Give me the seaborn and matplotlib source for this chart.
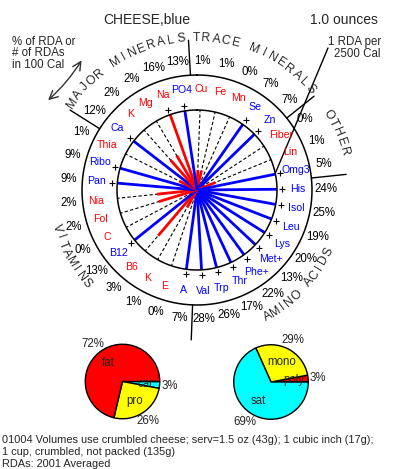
import numpy as np
import pandas as pd
import matplotlib
matplotlib.use("Agg")
import matplotlib.pyplot as plt
import seaborn as sns

# nutrients clockwise from the top, % of RDA in 100 Cal
nutrients = ["Cu", "Fe", "Mn", "Se", "Zn",
             "Fiber", "Lin", "Omg3",
             "His", "Isol", "Leu", "Lys", "Met+", "Phe+", "Thr", "Trp", "Val",
             "A", "E", "K", "B6", "B12", "C", "Fol", "Nia", "Pan", "Ribo", "Thia",
             "Ca", "K", "Mg", "Na", "PO4"]
pct_rda = [1, 1, 0, 7, 7,
           0, 1, 5,
           24, 25, 19, 20, 13, 22, 17, 26, 28,
           7, 0, 1, 3, 13, 0, 2, 2, 9, 9, 1,
           12, 2, 2, 16, 13]
limit_nutrients = ["Na"]   # drawn red even when high
groups = ["TRACE MINERALS", "OTHER", "AMINO ACIDS", "VITAMINS", "MAJOR MINERALS"]
group_sizes = [5, 3, 9, 11, 5]
group_ccw = [False, False, True, True, False]

cal_labels = ["car", "pro", "fat"]
cal_pct = [3, 26, 72]
fat_labels = ["poly", "mono", "sat"]
fat_pct = [3, 29, 69]
pie_colors = ["#00FFFF", "#FFFF00", "#FF0000"]
fat_colors = ["#FF0000", "#FFFF00", "#00FFFF"]

ref_pct = 100 / 2500 * 100   # 1 RDA per 2500 Cal -> 4% in 100 Cal

sns.set_theme(style="white")
plt.rcParams["font.family"] = ["Liberation Sans", "DejaVu Sans"]

BLUE, RED = "#0000FF", "#FF0000"
CX, CY = 197, 190
R_IN, R_OUT = 80, 115
STEP = 360 / len(nutrients)
OFFSET = 2.2


def pt(theta, r):
    t = np.deg2rad(theta)
    return CX + r * np.sin(t), CY - r * np.cos(t)


df = pd.DataFrame({"name": nutrients, "pct": pct_rda})
df["angle"] = OFFSET + np.arange(len(df)) * STEP
df["good"] = (df["pct"] >= ref_pct) & ~df["name"].isin(limit_nutrients)
df["color"] = np.where(df["good"], BLUE, RED)
df["length"] = np.minimum(df["pct"] / ref_pct, 1) * R_IN

fig = plt.figure(figsize=(3.93, 4.69), dpi=100)
ax = fig.add_axes([0, 0, 1, 1])
ax.set_xlim(0, 393)
ax.set_ylim(469, 0)
ax.axis("off")

# dashed guide spokes
for a in df["angle"]:
    x1, y1 = pt(a, R_IN)
    ax.plot([CX, x1], [CY, y1], color="black", lw=0.8, ls=(0, (3, 2)), zorder=1)

# value spokes
for _, row in df.iterrows():
    if row["length"] > 0:
        x1, y1 = pt(row["angle"], row["length"])
        ax.plot([CX, x1], [CY, y1], color=row["color"], lw=2.0,
                solid_capstyle="butt", zorder=2)

# circles
th = np.linspace(0, 360, 400)
for r in (R_IN, R_OUT):
    xs, ys = pt(th, r)
    ax.plot(xs, ys, color="black", lw=1.1, zorder=3)

# + markers where the value reaches 1 RDA per 2500 Cal
over = df[df["pct"] >= ref_pct].copy()
over["x"], over["y"] = pt(over["angle"].values, R_IN + 5)
sns.scatterplot(data=over, x="x", y="y", marker="+", color="black", s=18,
                linewidth=0.8, ax=ax, legend=False, zorder=4)

# nutrient names and percents
for _, row in df.iterrows():
    x, y = pt(row["angle"], 101)
    ax.text(x, y, row["name"], color=row["color"], fontsize=7.6,
            ha="center", va="center")
    x, y = pt(row["angle"], 129)
    ax.text(x, y, f"{row['pct']}%", color="black", fontsize=8.3,
            ha="center", va="center")

# group dividers and curved group names
start = 0
for name, n, ccw in zip(groups, group_sizes, group_ccw):
    a0 = OFFSET + (start - 0.5) * STEP
    x0, y0 = pt(a0, R_OUT)
    x1, y1 = pt(a0, 150)
    ax.plot([x0, x1], [y0, y1], color="black", lw=1.0)
    mid = OFFSET + (start + (n - 1) / 2) * STEP
    if ccw:
        d, rr = 3.55, 145
        angs = mid + d * (len(name) - 1) / 2 - d * np.arange(len(name))
        rots = 180 - angs
    else:
        d, rr = 3.75, 152
        angs = mid - d * (len(name) - 1) / 2 + d * np.arange(len(name))
        rots = -angs
    for ch, a, rot in zip(name, angs, rots):
        x, y = pt(a, rr)
        ax.text(x, y, ch, fontsize=8.8, ha="center", va="center",
                rotation=rot, rotation_mode="anchor")
    start += n

# pointer to the 1 RDA circle
px, py = pt(78, R_IN)
ax.plot([328, px], [48, py], color="black", lw=1.0)
ax.text(381, 42, "1 RDA per", fontsize=8.3, ha="right", va="center")
ax.text(381, 54, "2500 Cal", fontsize=8.3, ha="right", va="center")

ax.text(147, 20, "CHEESE,blue", fontsize=10, ha="center", va="center")
ax.text(344, 20, "1.0 ounces", fontsize=10, ha="center", va="center")
for i, s in enumerate(["% of RDA or", "# of RDAs", "in 100 Cal"]):
    ax.text(12, 42 + 11.5 * i, s, fontsize=8.3, ha="left", va="center")
ax.annotate("", xy=(46, 102), xytext=(83, 58),
            arrowprops=dict(arrowstyle="<->,head_length=0.5,head_width=0.25",
                            color="#333333", lw=1.0,
                            connectionstyle="arc3,rad=-0.08"))

foot = ["01004 Volumes use crumbled cheese; serv=1.5 oz (43g); 1 cubic inch (17g);",
        "1 cup, crumbled, not packed (135g)",
        "RDAs: 2001 Averaged"]
for i, s in enumerate(foot):
    ax.text(2, 440 + 12 * i, s, fontsize=7.9, ha="left", va="center")


def draw_pie(cx, cy, vals, labels, colors, ccw):
    r = 38
    pax = fig.add_axes([(cx - r) / 393, 1 - (cy + r) / 469, 2 * r / 393, 2 * r / 469])
    wedges, texts = pax.pie(vals, labels=labels, colors=colors, startangle=0,
                            counterclock=ccw, labeldistance=0.62,
                            wedgeprops=dict(edgecolor="black", linewidth=1.0),
                            textprops=dict(fontsize=8.3, ha="center", va="center"))
    for w, v in zip(wedges, vals):
        m = np.deg2rad((w.theta1 + w.theta2) / 2)
        pax.text(1.27 * np.cos(m), 1.27 * np.sin(m), f"{v}%", fontsize=8.3,
                 ha="center", va="center")
    pax.set_xlim(-1.02, 1.02)
    pax.set_ylim(-1.02, 1.02)
    pax.set_aspect("equal")
    pax.axis("off")


draw_pie(122.5, 381.5, cal_pct, cal_labels, pie_colors, False)
draw_pie(271, 382, fat_pct, fat_labels, fat_colors, True)

fig.savefig("out.png", dpi=100)
